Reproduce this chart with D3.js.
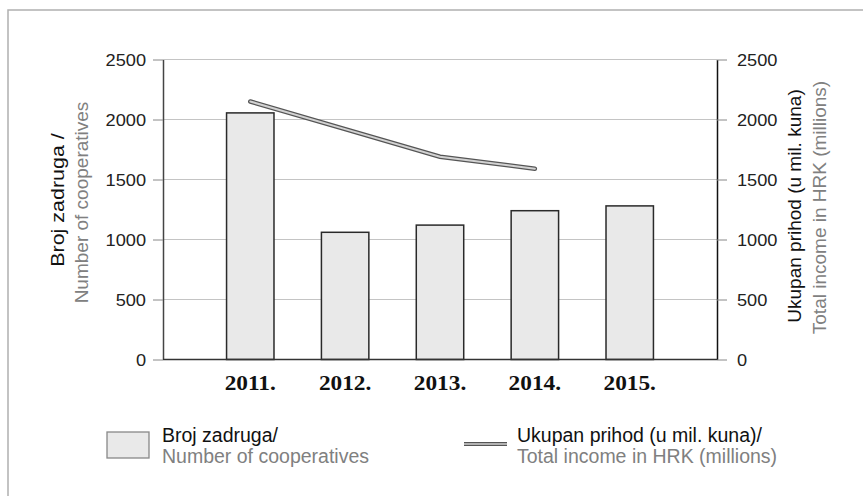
<!DOCTYPE html>
<html>
<head>
<meta charset="utf-8">
<script src="https://cdn.jsdelivr.net/npm/d3@7"></script>
<style>
body { margin: 0; background: #fff; }
text { font-family: "Liberation Sans", Arial, sans-serif; }
</style>
</head>
<body>
<script>
// data
var years = ["2011.", "2012.", "2013.", "2014.", "2015."];
var cooperatives = [2055, 1060, 1120, 1240, 1280];
var income = [2150, 1920, 1690, 1590, null];
var yTicks = [0, 500, 1000, 1500, 2000, 2500];

var W = 863, H = 496;
var plotLeft = 163, plotRight = 717, plotTop = 59.5, plotBottom = 359.5;

var svg = d3.select("body").append("svg")
    .attr("width", W)
    .attr("height", H);

// stretch or squeeze text horizontally to mimic the original font
function stretch(sel, k) {
    sel.each(function () {
        var w = this.getComputedTextLength();
        d3.select(this).attr("textLength", w * k).attr("lengthAdjust", "spacingAndGlyphs");
    });
}

// outer frame
svg.append("rect")
    .attr("x", 8).attr("y", 10)
    .attr("width", 880).attr("height", 520)
    .attr("fill", "none")
    .attr("stroke", "#b0b0b0")
    .attr("stroke-width", 1.5);

var x = d3.scaleBand()
    .domain(years)
    .range([plotLeft, plotRight])
    .paddingInner(0.5)
    .paddingOuter(0.67);

var yL = d3.scaleLinear().domain([0, 2500]).range([plotBottom, plotTop]);
var yR = d3.scaleLinear().domain([0, 2500]).range([plotBottom, plotTop]);

// gridlines
svg.append("g").selectAll("line")
    .data(yTicks.filter(function (d) { return d > 0; }))
    .enter().append("line")
    .attr("x1", plotLeft).attr("x2", plotRight)
    .attr("y1", function (d) { return yL(d); })
    .attr("y2", function (d) { return yL(d); })
    .attr("stroke", "#c4c4c4")
    .attr("stroke-width", 1);

// left axis
var gL = svg.append("g")
    .attr("transform", "translate(" + plotLeft + ",0)")
    .call(d3.axisLeft(yL).tickValues(yTicks).tickFormat(d3.format("d"))
        .tickSize(10).tickSizeOuter(0).tickPadding(7));
gL.select(".domain").attr("stroke", "#444").attr("stroke-width", 1.5);
gL.selectAll(".tick line").attr("stroke", "#888");
gL.selectAll(".tick text")
    .attr("font-family", "Liberation Sans, Arial, sans-serif")
    .attr("font-size", 17)
    .attr("fill", "#222")
    .attr("dy", "0.36em")
    .call(stretch, 1.07);

// right axis
var gR = svg.append("g")
    .attr("transform", "translate(" + plotRight + ",0)")
    .call(d3.axisRight(yR).tickValues(yTicks).tickFormat(d3.format("d"))
        .tickSize(10).tickSizeOuter(0).tickPadding(10));
gR.select(".domain").attr("stroke", "#111").attr("stroke-width", 1.5);
gR.selectAll(".tick line").attr("stroke", "#888");
gR.selectAll(".tick text")
    .attr("font-family", "Liberation Sans, Arial, sans-serif")
    .attr("font-size", 17)
    .attr("fill", "#222")
    .attr("dy", "0.36em")
    .call(stretch, 1.07);

// bars
svg.append("g").selectAll("rect")
    .data(years)
    .enter().append("rect")
    .attr("x", function (d) { return x(d); })
    .attr("width", x.bandwidth())
    .attr("y", function (d, i) { return yL(cooperatives[i]); })
    .attr("height", function (d, i) { return plotBottom - yL(cooperatives[i]); })
    .attr("fill", "#e9e9e9")
    .attr("stroke", "#2a2a2a")
    .attr("stroke-width", 1.5);

// baseline
svg.append("line")
    .attr("x1", plotLeft).attr("x2", plotRight)
    .attr("y1", plotBottom).attr("y2", plotBottom)
    .attr("stroke", "#333")
    .attr("stroke-width", 1.5);

// income line (double-line look)
var line = d3.line()
    .defined(function (d) { return d != null; })
    .x(function (d, i) { return x(years[i]) + x.bandwidth() / 2; })
    .y(function (d) { return yR(d); });

svg.append("path")
    .datum(income)
    .attr("d", line)
    .attr("fill", "none")
    .attr("stroke", "#555")
    .attr("stroke-width", 4.5)
    .attr("stroke-linecap", "round");
svg.append("path")
    .datum(income)
    .attr("d", line)
    .attr("fill", "none")
    .attr("stroke", "#d2d2d2")
    .attr("stroke-width", 2)
    .attr("stroke-linecap", "round");

// year labels
svg.append("g").selectAll("text")
    .data(years)
    .enter().append("text")
    .attr("x", function (d) { return x(d) + x.bandwidth() / 2; })
    .attr("y", 390)
    .attr("text-anchor", "middle")
    .style("font-family", "Liberation Serif, Times New Roman, serif")
    .style("font-weight", "bold")
    .style("font-size", "22px")
    .attr("fill", "#111")
    .text(function (d) { return d; })
    .call(stretch, 1.06);

// axis titles
function title(tx, ty, txt, color, k) {
    var t = svg.append("text")
        .attr("transform", "translate(" + tx + "," + ty + ") rotate(-90)")
        .attr("text-anchor", "middle")
        .style("font-size", "19px")
        .attr("fill", color)
        .text(txt);
    if (k) t.call(stretch, k);
}
title(64, 200, "Broj zadruga /", "#111", 1.13);
title(88, 202.5, "Number of cooperatives", "#808080");
title(801, 206, "Ukupan prihod (u mil. kuna)", "#111");
title(826, 207.5, "Total income in HRK (millions)", "#808080");

// legend
svg.append("rect")
    .attr("x", 107).attr("y", 432)
    .attr("width", 42).attr("height", 26)
    .attr("fill", "#e9e9e9")
    .attr("stroke", "#888")
    .attr("stroke-width", 1.3);
svg.append("text").attr("x", 162).attr("y", 441.5)
    .style("font-size", "19.5px").attr("fill", "#111").text("Broj zadruga/");
svg.append("text").attr("x", 162).attr("y", 462.5)
    .style("font-size", "19.5px").attr("fill", "#808080").text("Number of cooperatives");

svg.append("line")
    .attr("x1", 464).attr("x2", 507).attr("y1", 444).attr("y2", 444)
    .attr("stroke", "#555").attr("stroke-width", 4);
svg.append("line")
    .attr("x1", 464).attr("x2", 507).attr("y1", 444).attr("y2", 444)
    .attr("stroke", "#d2d2d2").attr("stroke-width", 1.6);
svg.append("text").attr("x", 517).attr("y", 441.5)
    .style("font-size", "19.5px").attr("fill", "#111").text("Ukupan prihod (u mil. kuna)/");
svg.append("text").attr("x", 517).attr("y", 462.5)
    .style("font-size", "19.5px").attr("fill", "#808080").text("Total income in HRK (millions)");
</script>
</body>
</html>
